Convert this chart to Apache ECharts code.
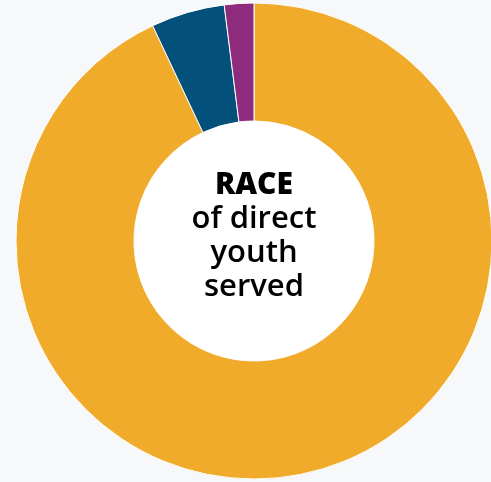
<!DOCTYPE html>
<html>
<head>
<meta charset="utf-8">
<script src="https://cdn.jsdelivr.net/npm/echarts@6/dist/echarts.min.js"></script>
<style>
html,body{margin:0;padding:0;background:#f6f8f9;}
#c{width:491px;height:482px;}
</style>
</head>
<body>
<div id="c"></div>
<script>
var categories = ['White', 'Black', 'Other'];
var values = [93, 5, 2];
var colors = ['#F0AB2B', '#03517A', '#8E2B7C'];

var chart = echarts.init(document.getElementById('c'));
chart.setOption({
  backgroundColor: '#f6f8f9',
  animation: false,
  series: [
    {
      type: 'pie',
      center: [254, 241],
      radius: [0, 120],
      silent: true,
      label: {
        show: true,
        position: 'center',
        padding: [0, 0, 10, 0],
        formatter: '{a|RACE}\n{b|of direct}\n{b|youth}\n{b|served}',
        rich: {
          a: {fontFamily: 'Open Sans', fontWeight: 800, fontSize: 30, color: '#000', lineHeight: 34},
          b: {fontFamily: 'Open Sans', fontWeight: 600, fontSize: 31, color: '#000', lineHeight: 34}
        }
      },
      labelLine: {show: false},
      itemStyle: {color: '#ffffff'},
      data: [{value: 1, name: 'hole'}]
    },
    {
      type: 'pie',
      center: [254, 241],
      radius: [120, 238],
      startAngle: 90,
      clockwise: true,
      label: {show: false},
      labelLine: {show: false},
      itemStyle: {borderColor: '#ffffff', borderWidth: 1},
      data: categories.map(function (c, i) {
        return {name: c, value: values[i], itemStyle: {color: colors[i]}};
      })
    }
  ]
});
</script>
</body>
</html>
